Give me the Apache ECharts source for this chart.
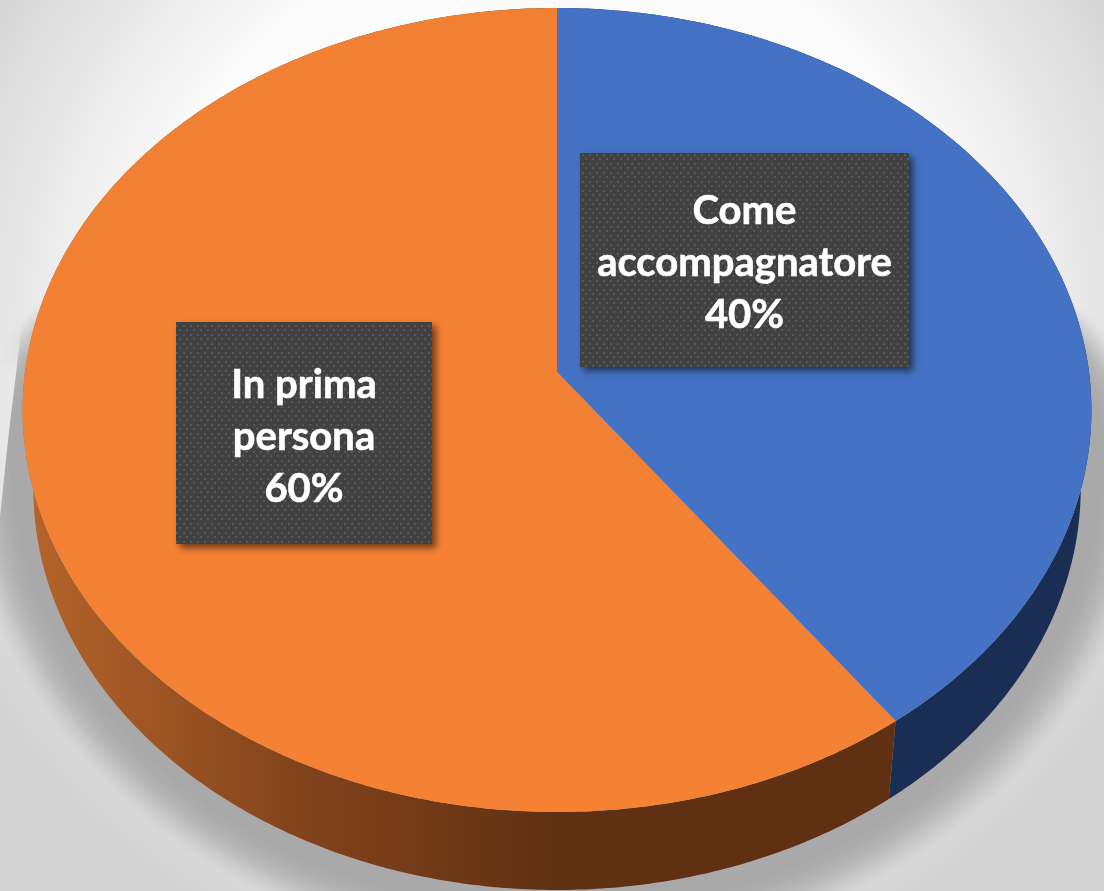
<!DOCTYPE html>
<html><head><meta charset="utf-8">
<style>html,body{margin:0;padding:0;background:#fff}#c{width:1104px;height:891px}</style>
<script src="https://cdn.jsdelivr.net/npm/echarts@6/dist/echarts.min.js"></script>
</head><body><div id="c"></div>
<script>
var categories = ['Come\naccompagnatore', 'In prima\npersona'];
var shares = [40, 60];
var topColors = ['#4472c4', { type: 'linear', x: 0, y: 8, x2: 0, y2: 812, global: true,
  colorStops: [{ offset: 0, color: '#f28033' }, { offset: 1, color: '#f58233' }] }];

// projection of the tilted disc
var APEX = [557, 372], RX = 532, RY = 398.4, K = 0.0945, DEPTH = 78, SHRINK = 0.98;
function topPoint(t) {
  var u = Math.sin(t), v = Math.cos(t), d = 1 + K * v;
  return [APEX[0] + RX * u / d, APEX[1] - RY * v / d];
}
function lowPoint(t) {
  var p = topPoint(t);
  return [APEX[0] + (p[0] - APEX[0]) * SHRINK, p[1] + DEPTH];
}
function arc(fn, a, b) {
  var pts = [], n = Math.max(8, Math.ceil((b - a) / 0.01));
  for (var i = 0; i <= n; i++) pts.push(fn(a + (b - a) * i / n));
  return pts;
}
var total = shares.reduce(function (s, v) { return s + v; }, 0);
function sliceRange(i) {
  var before = 0;
  for (var j = 0; j < i; j++) before += shares[j];
  return [before / total * 2 * Math.PI, (before + shares[i]) / total * 2 * Math.PI];
}
var wallFills = [
  '#1a2d52',
  { type: 'linear', x: 30, y: 0, x2: 560, y2: 0, global: true,
    colorStops: [{ offset: 0, color: '#b5642a' }, { offset: 0.5, color: '#83441b' }, { offset: 1, color: '#5f3012' }] }
];
var labelBoxes = [
  { x: 580, y: 153, width: 329, height: 214, cy: 263 },
  { x: 176, y: 322, width: 256, height: 222, cy: 437 }
];
// dotted texture of the label boxes
var tex = document.createElement('canvas');
tex.width = 7; tex.height = 9;
var tc = tex.getContext('2d');
tc.fillStyle = '#414141'; tc.fillRect(0, 0, 7, 9);
tc.fillStyle = '#585858'; tc.fillRect(1, 1, 2, 2); tc.fillRect(4, 5, 2, 2);

// soft drop shadow under the disc, built as stacked translucent ellipses
function shadowLayers() {
  var cx = 557, cy = 452, rx = 525, ry = 438, solid = 22, reach = 75, steps = 40, out = [], prev = 0;
  for (var i = 0; i <= steps; i++) {
    var d = reach - (reach - solid) * i / steps;
    var s = i / steps, c = 0.97 * s * s * (3 - 2 * s);
    var a = 1 - (1 - c) / (1 - prev); prev = c;
    var ryTop = 260 + d * 0.63, pts = [];
    for (var k = 0; k <= 360; k += 2) {
      var t = k * Math.PI / 180, co = Math.cos(t);
      pts.push([cx + (rx + d) * Math.sin(t), co > 0 ? cy - ryTop * co : cy - (ry + d) * co]);
    }
    out.push({ type: 'polygon', shape: { points: pts }, style: { fill: 'rgba(172,172,172,' + a.toFixed(4) + ')' } });
  }
  out.push({ type: 'polygon', shape: { points: [[0, 290], [26, 290], [8, 440], [0, 517]] },
    style: { fill: { type: 'linear', x: 0, y: 290, x2: 0, y2: 517, global: true,
      colorStops: [{ offset: 0, color: 'rgba(232,232,232,0)' }, { offset: 0.35, color: '#e8e8e8' }, { offset: 1, color: '#e6e6e6' }] } } });
  return out;
}

var chart = echarts.init(document.getElementById('c'), null, { renderer: 'canvas' });
var rows = shares.map(function (v, i) { return [i, v]; });
chart.setOption({
  animation: false,
  backgroundColor: {
    type: 'radial', x: 0.5, y: 0.38, r: 0.75,
    colorStops: [{ offset: 0, color: '#ffffff' }, { offset: 0.62, color: '#fbfbfb' }, { offset: 1, color: '#d2d2d2' }]
  },
  series: [
    { type: 'custom', coordinateSystem: 'none', silent: true, z: 1, data: rows,
      renderItem: function (p) {
        if (p.dataIndex !== 0) return;
        return { type: 'group', children: shadowLayers() };
      } },
    { type: 'custom', coordinateSystem: 'none', silent: true, z: 2, data: rows,
      renderItem: function (p) {
        var r = sliceRange(p.dataIndex);
        var pts = arc(topPoint, r[0], r[1]).concat(arc(lowPoint, r[0], r[1]).reverse());
        return { type: 'polygon', shape: { points: pts }, style: { fill: wallFills[p.dataIndex] } };
      } },
    { type: 'custom', coordinateSystem: 'none', silent: true, z: 3, data: rows,
      renderItem: function (p) {
        var r = sliceRange(p.dataIndex);
        var pts = [APEX].concat(arc(topPoint, r[0], r[1]));
        return { type: 'polygon', shape: { points: pts }, style: { fill: topColors[p.dataIndex] } };
      } },
    { type: 'custom', coordinateSystem: 'none', silent: true, z: 4, data: rows,
      renderItem: function (p, api) {
        var i = p.dataIndex, b = labelBoxes[i];
        return { type: 'group', children: [
          { type: 'rect', shape: { x: b.x, y: b.y, width: b.width, height: b.height },
            style: { fill: { image: tex, repeat: 'repeat' }, shadowBlur: 7, shadowOffsetX: 4, shadowOffsetY: 4, shadowColor: 'rgba(0,0,0,0.55)' } },
          { type: 'text', style: { text: categories[i] + '\n' + api.value(1) + '%', x: b.x + b.width / 2, y: b.cy,
            align: 'center', verticalAlign: 'middle', fill: '#ffffff', stroke: '#ffffff', lineWidth: 0.6, lineHeight: 52,
            font: 'bold 40px Lato, "Open Sans", sans-serif' } }
        ] };
      } }
  ]
});
</script></body></html>
